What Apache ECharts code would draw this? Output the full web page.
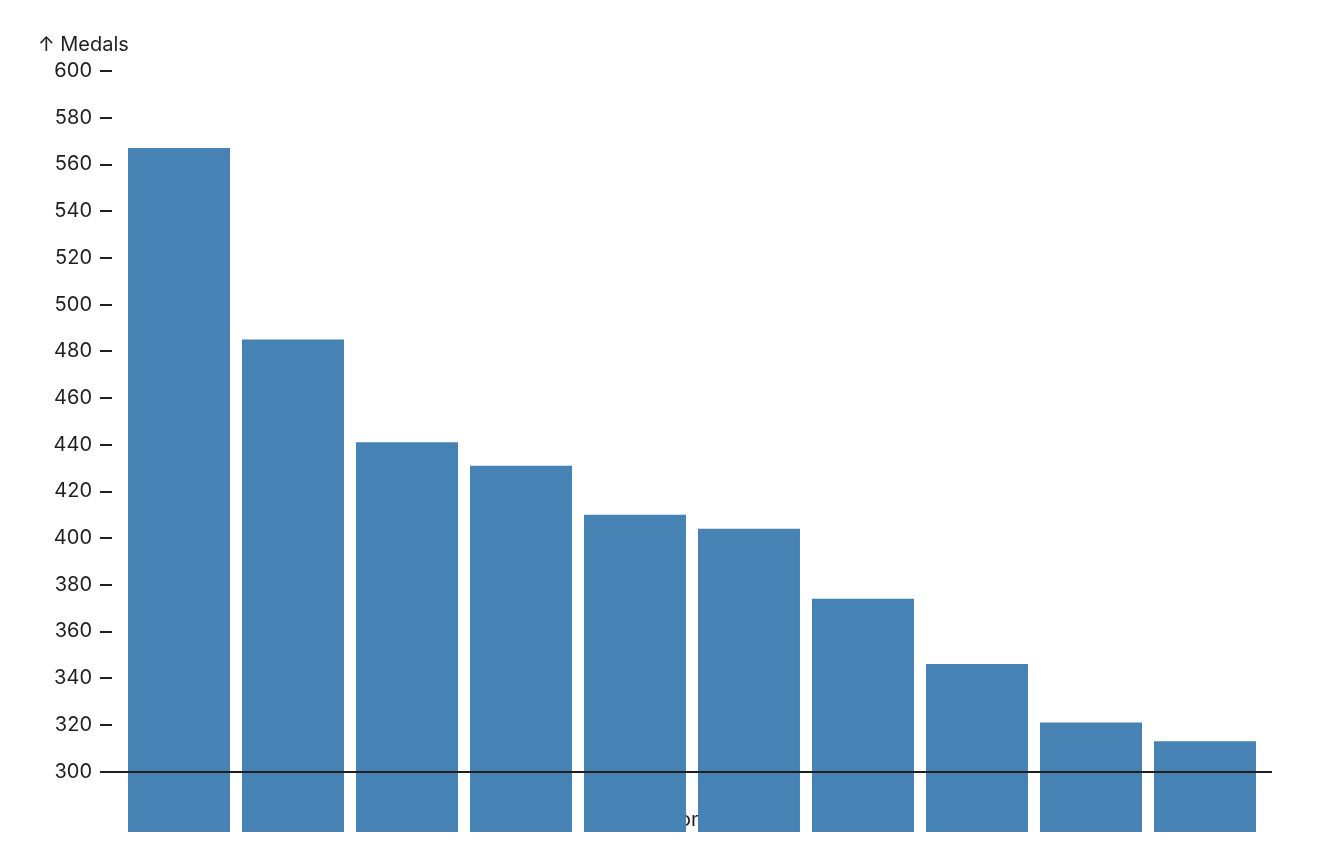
<!DOCTYPE html>
<html>
<head>
<meta charset="utf-8">
<script src="https://cdn.jsdelivr.net/npm/echarts@6/dist/echarts.min.js"></script>
<style>
html,body{margin:0;padding:0;background:#fff;}
#chart{width:1344px;height:864px;}
</style>
</head>
<body>
<div id="chart"></div>
<script>
const categories = ['USA', 'GER', 'GBR', 'RUS', 'CHN', 'FRA', 'AUS', 'ITA', 'CAN', 'JPN'];
const medals = [567, 485, 441, 431, 410, 404, 374, 346, 321, 313];
const yTicks = [300, 320, 340, 360, 380, 400, 420, 440, 460, 480, 500, 520, 540, 560, 580, 600];
const ruleValue = 300;

const font = 'Inter, "Noto Sans", sans-serif';
const ink = '#1f1f1f';

const chart = echarts.init(document.getElementById('chart'), null, {renderer: 'canvas'});
chart.setOption({
  animation: false,
  title: {
    text: '↑ Medals',
    left: 38,
    top: 35,
    padding: 0,
    textStyle: {fontFamily: font, fontSize: 20, fontWeight: 'normal', color: ink}
  },
  grid: {left: 100, right: 72, top: 71, bottom: 32, containLabel: false},
  xAxis: {
    type: 'value',
    min: -0.693,
    max: 9.588,
    name: 'Nation',
    nameLocation: 'middle',
    nameGap: -12,
    nameTextStyle: {fontFamily: font, fontSize: 20, color: ink, verticalAlign: 'middle', padding: [0, 28, 0, 0]},
    axisLine: {show: false, onZero: false},
    axisTick: {show: false},
    axisLabel: {show: false},
    splitLine: {show: false}
  },
  yAxis: {
    type: 'value',
    min: 274.1,
    max: 600,
    axisLine: {show: false, onZero: false},
    axisTick: {show: true, inside: true, length: 12, customValues: yTicks, lineStyle: {color: ink, width: 2}},
    axisLabel: {show: true, customValues: yTicks, margin: 8, fontFamily: font, fontSize: 20, color: ink},
    splitLine: {show: false}
  },
  series: [{
    type: 'bar',
    data: categories.map((c, i) => ({name: c, value: [i, medals[i]]})),
    barWidth: 102,
    itemStyle: {color: '#4682b4'},
    clip: true,
    markLine: {
      silent: true,
      symbol: 'none',
      label: {show: false},
      lineStyle: {color: ink, width: 2, type: 'solid'},
      data: [{yAxis: ruleValue}]
    }
  }]
});
</script>
</body>
</html>
